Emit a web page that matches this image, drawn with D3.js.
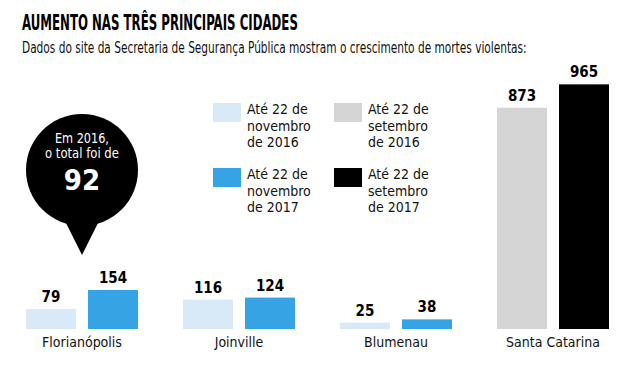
<!DOCTYPE html>
<html>
<head>
<meta charset="utf-8">
<script src="https://cdn.jsdelivr.net/npm/d3@7"></script>
<style>
  body { margin: 0; background: #fff; }
  text { font-family: "Liberation Sans Narrow", "DejaVu Sans Condensed", "Roboto", sans-serif; }
</style>
</head>
<body>
<svg id="chart" width="640" height="378"></svg>
<script>
const categories = ["Florianópolis", "Joinville", "Blumenau", "Santa Catarina"];
const values2016 = [79, 116, 25, 873];
const values2017 = [154, 124, 38, 965];
const seriesKeys = ["2016", "2017"];
const cityColors = ["#d8e9f8", "#36a4e4"];
const stateColors = ["#d5d5d5", "#000000"];
const legendItems = [
  ["Até 22 de", "novembro", "de 2016"],
  ["Até 22 de", "novembro", "de 2017"],
  ["Até 22 de", "setembro", "de 2016"],
  ["Até 22 de", "setembro", "de 2017"]
];
const legendColors = ["#d8e9f8", "#36a4e4", "#d5d5d5", "#000000"];
const bubbleLines = ["Em 2016,", "o total foi de"];
const bubbleWidths = [54, 74];
const bubbleValue = "92";

const svg = d3.select("#chart");

// squeeze a text horizontally to a given width (narrow font stand-in)
function fitText(sel, left, width){
  let w = sel.node().getComputedTextLength();
  let s = Math.min(1, width / w);
  sel.attr("x", 0).attr("transform", `translate(${left},0) scale(${s},1)`);
}

let title = svg.append("text")
  .attr("y", 30)
  .style("font-size", "22px").style("font-weight", "bold")
  .text("AUMENTO NAS TRÊS PRINCIPAIS CIDADES");
fitText(title, 22, 276);

let sub = svg.append("text")
  .attr("y", 53)
  .style("font-size", "16px").style("fill", "#111")
  .text("Dados do site da Secretaria de Segurança Pública mostram o crescimento de mortes violentas:");
fitText(sub, 22, 505);

const baseline = 329;
let x = d3.scaleBand().domain(categories).range([26, 609]).paddingInner(45 / 157).paddingOuter(0);
let xInner = d3.scaleBand().domain(seriesKeys).range([0, x.bandwidth()]).paddingInner(12 / 62).paddingOuter(0);
let y = d3.scaleLinear().domain([0, 1000]).range([baseline, baseline - 253.5]);

const rows = categories.map((c, i) => ({
  city: c,
  vals: [values2016[i], values2017[i]],
  colors: i === categories.length - 1 ? stateColors : cityColors
}));

let gCity = svg.selectAll("g.city").data(rows).enter()
  .append("g").attr("class", "city")
  .attr("transform", d => `translate(${x(d.city)},0)`);

let gBar = gCity.selectAll("g.bar")
  .data(d => d.vals.map((v, j) => ({key: seriesKeys[j], v: v, color: d.colors[j]})))
  .enter().append("g");

gBar.append("rect")
  .attr("x", d => xInner(d.key))
  .attr("y", d => y(d.v))
  .attr("width", xInner.bandwidth())
  .attr("height", d => baseline - y(d.v))
  .style("fill", d => d.color);

gBar.append("text")
  .attr("x", d => xInner(d.key) + xInner.bandwidth() / 2)
  .attr("y", d => y(d.v) - 7)
  .attr("text-anchor", "middle")
  .style("font-size", "15px").style("font-weight", "bold")
  .text(d => d.v);

gCity.append("text")
  .attr("x", x.bandwidth() / 2)
  .attr("y", 347)
  .attr("text-anchor", "middle")
  .style("font-size", "14px").style("fill", "#111")
  .text(d => d.city);

// legend
const legendPos = [[213, 103], [213, 168], [334, 103], [334, 168]];
let gLeg = svg.selectAll("g.leg").data(legendItems).enter()
  .append("g").attr("class", "leg")
  .attr("transform", (d, i) => `translate(${legendPos[i][0]},${legendPos[i][1]})`);
gLeg.append("rect")
  .attr("width", 28).attr("height", 19)
  .style("fill", (d, i) => legendColors[i]);
gLeg.selectAll("text").data(d => d).enter().append("text")
  .attr("x", 34)
  .attr("y", (d, k) => 11 + k * 16.5)
  .style("font-size", "14px").style("fill", "#111")
  .text(d => d);

// bubble
const bx = x(categories[0]) + x.bandwidth() / 2, by = 170, br = 56;
let gBub = svg.append("g");
gBub.append("path")
  .attr("d", `M${bx - 17},${by + 51} L${bx},${255} L${bx + 17},${by + 51} Z`)
  .style("fill", "#000");
gBub.append("circle")
  .attr("cx", bx).attr("cy", by).attr("r", br)
  .style("fill", "#000");
gBub.selectAll("text.l").data(bubbleLines).enter().append("text")
  .attr("class", "l")
  .attr("y", (d, i) => 143 + i * 15.5)
  .style("font-size", "14px").style("fill", "#fff")
  .text(d => d)
  .each(function(d, i){ fitText(d3.select(this), bx - bubbleWidths[i] / 2, bubbleWidths[i]); });
gBub.append("text")
  .attr("x", bx).attr("y", 190)
  .attr("text-anchor", "middle")
  .style("font-size", "29px").style("font-weight", "bold").style("fill", "#fff")
  .text(bubbleValue);
</script>
</body>
</html>
